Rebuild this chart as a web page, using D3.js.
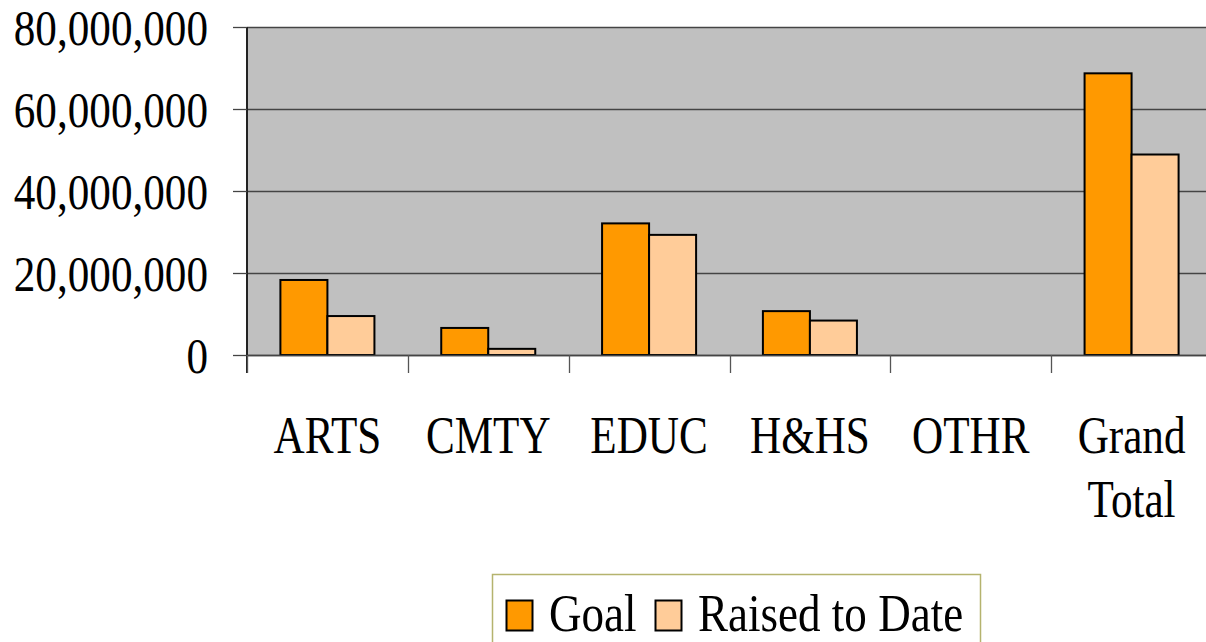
<!DOCTYPE html>
<html>
<head>
<meta charset="utf-8">
<script src="https://cdn.jsdelivr.net/npm/d3@7"></script>
<style>
  html, body { margin: 0; padding: 0; background: #fff; }
  svg { display: block; }
  text { font-family: "Liberation Serif", "Times New Roman", serif; fill: #000; }
</style>
</head>
<body>
<svg id="chart" width="1206" height="642"></svg>
<script>
// Campaign totals by fund area
const categories = ["ARTS", "CMTY", "EDUC", "H&HS", "OTHR", "Grand Total"];
const goal = [18300000, 6600000, 32100000, 10700000, 0, 68700000];
const raised = [9500000, 1500000, 29300000, 8400000, 0, 48900000];
const seriesNames = ["Goal", "Raised to Date"];
const yTicks = [0, 20000000, 40000000, 60000000, 80000000];

const colors = { "Goal": "#FF9900", "Raised to Date": "#FFCC99" };
const squeeze = 0.83; // narrow serif rendering of the labels

const svg = d3.select("#chart");
const plot = { left: 247, right: 1212, top: 27, bottom: 355 };

const x = d3.scaleBand().domain(categories).range([plot.left, plot.right]).padding(0);
const bw = x.bandwidth();
const x1 = d3.scaleBand().domain(seriesNames).range([bw * 0.2077, bw * 0.7923]).padding(0);
const y = d3.scaleLinear().domain([0, 80000000]).range([plot.bottom, plot.top]);

// plot background
svg.append("rect")
  .attr("x", plot.left).attr("y", plot.top)
  .attr("width", plot.right - plot.left).attr("height", plot.bottom - plot.top)
  .attr("fill", "#C0C0C0");

// horizontal gridlines
svg.append("g").selectAll("line").data(yTicks).join("line")
  .attr("x1", plot.left).attr("x2", plot.right)
  .attr("y1", d => Math.round(y(d)) + 0.5).attr("y2", d => Math.round(y(d)) + 0.5)
  .attr("stroke", "#444").attr("stroke-width", 1.3);

// bars
const rows = categories.map((c, i) => ({ cat: c, vals: [
  { key: "Goal", v: goal[i] }, { key: "Raised to Date", v: raised[i] }] }));

const groups = svg.append("g").selectAll("g").data(rows).join("g")
  .attr("transform", d => `translate(${x(d.cat)},0)`);
groups.selectAll("rect").data(d => d.vals.filter(v => v.v > 0)).join("rect")
  .attr("x", d => x1(d.key))
  .attr("y", d => y(d.v))
  .attr("width", x1.bandwidth())
  .attr("height", d => y(0) - y(d.v))
  .attr("fill", d => colors[d.key])
  .attr("stroke", "#000").attr("stroke-width", 2);

// y axis line and ticks
svg.append("line")
  .attr("x1", plot.left).attr("x2", plot.left)
  .attr("y1", plot.top).attr("y2", plot.bottom + 18)
  .attr("stroke", "#222").attr("stroke-width", 2);
svg.append("g").selectAll("line").data(yTicks).join("line")
  .attr("x1", plot.left - 14).attr("x2", plot.left)
  .attr("y1", d => Math.round(y(d)) + 0.5).attr("y2", d => Math.round(y(d)) + 0.5)
  .attr("stroke", "#444").attr("stroke-width", 1.3);

// x axis line and category dividers
svg.append("line")
  .attr("x1", plot.left).attr("x2", plot.right)
  .attr("y1", plot.bottom + 0.5).attr("y2", plot.bottom + 0.5)
  .attr("stroke", "#444").attr("stroke-width", 1.5);
const dividers = categories.map(c => x(c)).concat([plot.right]);
svg.append("g").selectAll("line").data(dividers).join("line")
  .attr("x1", d => Math.round(d) + 0.5).attr("x2", d => Math.round(d) + 0.5)
  .attr("y1", plot.bottom).attr("y2", plot.bottom + 18)
  .attr("stroke", "#555").attr("stroke-width", 1.3);

// y tick labels
const fmt = d3.format(",");
svg.append("g").selectAll("g").data(yTicks).join("g")
  .attr("transform", d => `translate(208,${y(d)}) scale(0.855,1)`)
  .append("text")
  .attr("text-anchor", "end")
  .attr("dy", "0.36em")
  .attr("font-size", 50.5)
  .text(d => fmt(d));

// category labels
const xl = svg.append("g").selectAll("g").data(categories).join("g")
  .attr("transform", d => `translate(${x(d) + bw / 2},453) scale(${squeeze},1)`)
  .append("text")
  .attr("text-anchor", "middle")
  .attr("font-size", 52);
xl.selectAll("tspan").data(d => d.split(" ")).join("tspan")
  .attr("x", 0)
  .attr("dy", (d, i) => i === 0 ? 0 : 64)
  .text(d => d);

// legend
const legend = svg.append("g");
legend.append("rect")
  .attr("x", 492.5).attr("y", 574.5)
  .attr("width", 488).attr("height", 120)
  .attr("fill", "#fff").attr("stroke", "#B5B36E").attr("stroke-width", 1.5);
const legendPos = [{ sx: 506.5, tx: 549 }, { sx: 655.5, tx: 698 }];
seriesNames.forEach((name, i) => {
  legend.append("rect")
    .attr("x", legendPos[i].sx).attr("y", 600.5)
    .attr("width", 26).attr("height", 30)
    .attr("fill", colors[name]).attr("stroke", "#000").attr("stroke-width", 2);
  legend.append("g")
    .attr("transform", `translate(${legendPos[i].tx},631) scale(0.85,1)`)
    .append("text")
    .attr("font-size", 53)
    .text(name);
});
</script>
</body>
</html>
